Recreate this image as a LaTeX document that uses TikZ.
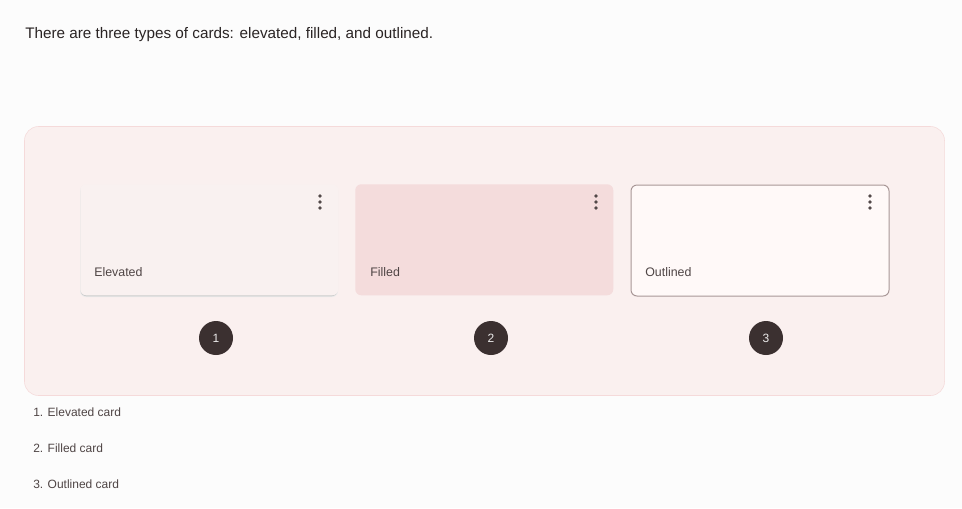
\documentclass[tikz,border=0pt]{standalone}
\usepackage{fontspec}
\setmainfont{Liberation Sans}
\definecolor{pagebg}{HTML}{FCFCFC}
\definecolor{panelbg}{HTML}{FAF0EF}
\definecolor{panelborder}{HTML}{F5DADA}
\definecolor{elevbg}{HTML}{F9F1F0}
\definecolor{fillbg}{HTML}{F4DCDC}
\definecolor{outbg}{HTML}{FFF9F8}
\definecolor{outborder}{HTML}{A89797}
\definecolor{txt}{HTML}{4F4545}
\definecolor{dotc}{HTML}{524848}
\definecolor{dark}{HTML}{3B3030}
\definecolor{titletxt}{HTML}{2A2424}
\tikzset{
  card/.style={rounded corners=4.5pt, minimum width=193.5pt, minimum height=83.25pt, inner sep=0pt, anchor=north west},
  cardlabel/.style={font=\fontsize{9.3}{11}\selectfont, text=txt, anchor=west, inner sep=0pt},
  menudot/.style={circle, fill=dotc, inner sep=0pt, minimum size=2.7pt},
  badge/.style={circle, fill=dark, minimum size=25.5pt, inner sep=0pt, text=white!90!dark, font=\fontsize{9}{11}\selectfont},
  listitem/.style={font=\fontsize{9}{11}\selectfont, text=txt, anchor=west, inner sep=0pt}
}
\begin{document}
\begin{tikzpicture}[x=0.75pt, y=-0.75pt]
\fill[pagebg] (0,0) rectangle (962,508);
\useasboundingbox (0,0) rectangle (962,508);
\node[anchor=west, inner sep=0pt, text=titletxt, font=\fontsize{11.45}{13}\selectfont] (title) at (25,35) {There are three types of cards: elevated, filled, and outlined.};
\draw[panelborder, fill=panelbg, rounded corners=10.5pt] (24.5,126.5) rectangle (944.5,395.5);
% shadow for elevated card
\fill[black!8, rounded corners=4.5pt] (80,185) rectangle (338,297);
\fill[black!20, rounded corners=4.5pt] (80.5,186) rectangle (337.5,296.3);
\node[card, fill=elevbg] (elev) at (80,184) {};
\node[card, fill=fillbg] (filled) at (355,184) {};
\node[card, fill=outbg, draw=outborder, line width=0.75pt] (outl) at (630.5,184.5) {};
\node[cardlabel] (elevlabel) at (94,272) {Elevated};
\node[cardlabel] (filledlabel) at (370,272) {Filled};
\node[cardlabel] (outllabel) at (645,272) {Outlined};
\foreach \cx/\nm in {320/a,596/b,870/c}{
  \node[menudot] (d1\nm) at (\cx,196) {};
  \node[menudot] (d2\nm) at (\cx,202) {};
  \node[menudot] (d3\nm) at (\cx,208) {};
}
\node[badge] (b1) at (216,338) {1};
\node[badge] (b2) at (491,338) {2};
\node[badge] (b3) at (766,338) {3};
\node[listitem] (l1) at (33,412) {1. Elevated card};
\node[listitem] (l2) at (33,448) {2. Filled card};
\node[listitem] (l3) at (33,484) {3. Outlined card};
\end{tikzpicture}
\end{document}
